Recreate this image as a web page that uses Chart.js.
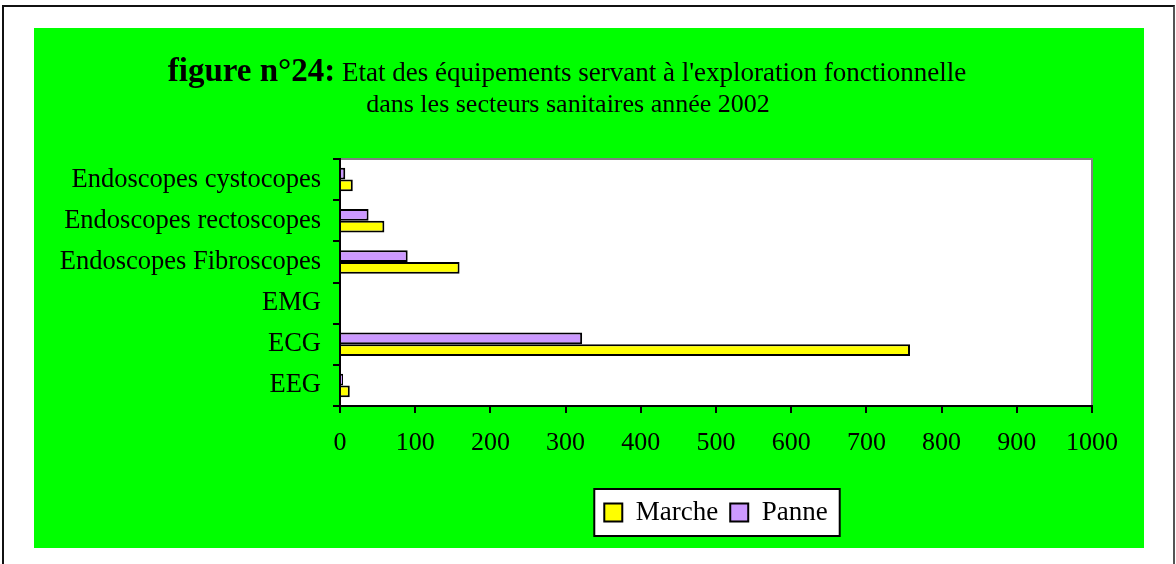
<!DOCTYPE html>
<html>
<head>
<meta charset="utf-8">
<script src="https://cdn.jsdelivr.net/npm/chart.js@4/dist/chart.umd.min.js"></script>
<style>
    html, body { margin: 0; padding: 0; background: #fff; width: 1176px; height: 564px; overflow: hidden; }
    #cadre { position: absolute; left: 2px; top: 5px; width: 1173px; height: 600px; border: 2px solid #111; border-right-color: #555; box-sizing: border-box; }
    #fond { position: absolute; left: 34px; top: 28px; width: 1110px; height: 520px; background: #00FF00; }
    canvas { display: block; }
</style>
</head>
<body>
<div id="cadre"></div>
<div id="fond"><canvas id="explorationFonctionnelle" width="1110" height="520"></canvas></div>
<script>
const categories = ['Endoscopes cystocopes', 'Endoscopes rectoscopes', 'Endoscopes Fibroscopes', 'EMG', 'ECG', 'EEG'];
const marche = [17, 59, 159, 0, 758, 13];
const panne = [7, 38, 90, 0, 322, 4];
const graduations = [0, 100, 200, 300, 400, 500, 600, 700, 800, 900, 1000];

const titreGras = 'figure n°24:';
const titreLigne1 = " Etat des équipements servant à l'exploration fonctionnelle";
const titreLigne2 = 'dans les secteurs sanitaires année 2002';

const police = '"Liberation Serif", "Times New Roman", serif';

// fond blanc de la zone de tracé, cadre gris, cadre de la légende
const decor = {
    id: 'decor',
    beforeDraw(chart) {
        const { ctx, chartArea: a, legend } = chart;
        ctx.save();
        ctx.fillStyle = '#fff';
        ctx.fillRect(a.left, a.top, a.right - a.left, a.bottom - a.top);
        ctx.strokeStyle = '#808080';
        ctx.lineWidth = 2;
        ctx.strokeRect(a.left, a.top, a.right - a.left, a.bottom - a.top);
        if (legend && legend.legendHitBoxes.length) {
            const boxes = legend.legendHitBoxes;
            const x0 = Math.min(...boxes.map(b => b.left)) - 10;
            const x1 = Math.max(...boxes.map(b => b.left + b.width)) + 12;
            const y0 = Math.min(...boxes.map(b => b.top)) - 10;
            const y1 = Math.max(...boxes.map(b => b.top + b.height)) + 10;
            ctx.fillStyle = '#fff';
            ctx.fillRect(x0, y0, x1 - x0, y1 - y0);
            ctx.strokeStyle = '#000';
            ctx.strokeRect(x0, y0, x1 - x0, y1 - y0);
        }
        ctx.restore();
    },
    afterDraw(chart) {
        // titre : partie grasse + partie normale
        const ctx = chart.ctx;
        const centre = 533;
        ctx.save();
        ctx.fillStyle = '#000';
        ctx.textBaseline = 'alphabetic';
        ctx.textAlign = 'left';
        ctx.font = 'bold 33px ' + police;
        const w1 = ctx.measureText(titreGras).width;
        ctx.font = '27px ' + police;
        const w2 = ctx.measureText(titreLigne1).width;
        let x = centre - (w1 + w2) / 2;
        ctx.font = 'bold 33px ' + police;
        ctx.fillText(titreGras, x, 53);
        ctx.font = '27px ' + police;
        ctx.fillText(titreLigne1, x + w1, 53);
        ctx.font = '26px ' + police;
        ctx.textAlign = 'center';
        ctx.fillText(titreLigne2, centre + 1, 84);
        ctx.restore();
    }
};

new Chart(document.getElementById('explorationFonctionnelle'), {
    type: 'bar',
    data: {
        labels: categories,
        datasets: [{
            label: 'Panne',
            data: panne,
            backgroundColor: '#CC99FF',
            borderColor: '#000',
            borderWidth: 2
        }, {
            label: 'Marche',
            data: marche,
            backgroundColor: '#FFFF00',
            borderColor: '#000',
            borderWidth: 2
        }]
    },
    options: {
        indexAxis: 'y',
        responsive: false,
        animation: false,
        categoryPercentage: 0.57,
        barPercentage: 1,
        layout: { padding: { top: 131, right: 52, left: 0, bottom: 12 } },
        plugins: {
            title: { display: false },
            tooltip: { enabled: false },
            legend: {
                position: 'bottom',
                fullSize: false,
                reverse: true,
                labels: {
                    color: '#000',
                    font: { family: police, size: 27 },
                    boxWidth: 18,
                    boxHeight: 18,
                    padding: 12
                }
            }
        },
        scales: {
            x: {
                min: graduations[0],
                max: graduations[graduations.length - 1],
                afterBuildTicks: (scale) => { scale.ticks = graduations.map(v => ({ value: v })); },
                afterFit: (scale) => { scale.height = 81; },
                border: { display: true, color: '#000', width: 2 },
                grid: { drawOnChartArea: false, drawTicks: true, tickLength: 7, color: '#000', lineWidth: 2 },
                ticks: {
                    color: '#000', padding: 15, maxRotation: 0,
                    font: { family: police, size: 26 },
                    callback: (v) => String(v)
                }
            },
            y: {
                afterFit: (scale) => { scale.width = 306; },
                border: { display: true, color: '#000', width: 2 },
                grid: { offset: true, drawOnChartArea: false, drawTicks: true, tickLength: 7, color: '#000', lineWidth: 2 },
                ticks: { color: '#000', padding: 12, font: { family: police, size: 26.5 } }
            }
        }
    },
    plugins: [decor]
});
</script>
</body>
</html>
